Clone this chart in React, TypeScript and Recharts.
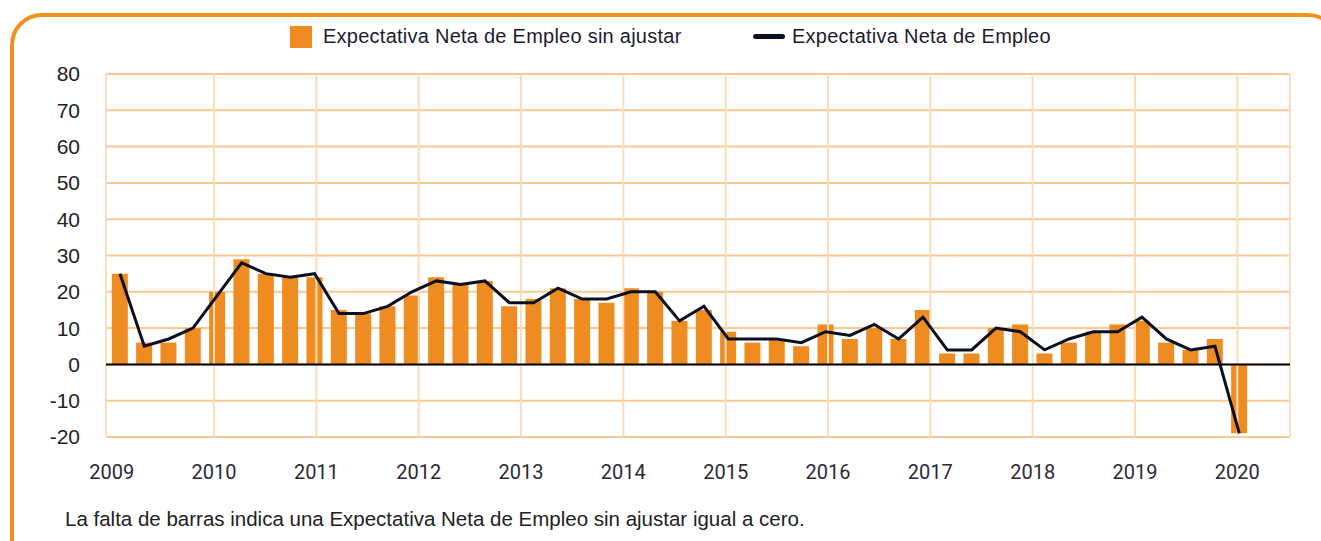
import React from "react";
import {
  ComposedChart,
  Bar,
  Line,
  XAxis,
  YAxis,
  CartesianGrid,
  ReferenceLine,
} from "recharts";

// Year labels shown under the chart
const YEARS = [2009, 2010, 2011, 2012, 2013, 2014, 2015, 2016, 2017, 2018, 2019, 2020];
// Years that carry a vertical gridline
const GRID_YEARS = [2010, 2011, 2012, 2013, 2014, 2015, 2016, 2017, 2018, 2019, 2020];
// Extent of the year scale (plot edges)
const YEAR_MIN = 2008.944;
const YEAR_MAX = 2020.515;

// Quarterly categories
const QUARTERS = YEARS.flatMap((y) => ["T1", "T2", "T3", "T4"].map((q) => `${y} ${q}`));

// Expectativa Neta de Empleo sin ajustar (bars)
const UNADJUSTED = [
  25, 6, 6, 10, 20, 29, 25, 24, 24, 15, 14, 16, 19, 24, 22, 23, 16, 18, 21, 18, 17, 21, 20, 12,
  15, 9, 6, 7, 5, 11, 7, 10, 7, 15, 3, 3, 10, 11, 3, 6, 9, 11, 12, 6, 4, 7, -19, 0,
];
// Expectativa Neta de Empleo (line)
const ADJUSTED: (number | null)[] = [
  25, 5, 7, 10, 19, 28, 25, 24, 25, 14, 14, 16, 20, 23, 22, 23, 17, 17, 21, 18, 18, 20, 20, 12,
  16, 7, 7, 7, 6, 9, 8, 11, 7, 13, 4, 4, 10, 9, 4, 7, 9, 9, 13, 7, 4, 5, -19, null,
];

const Y_TICKS = [-20, -10, 0, 10, 20, 30, 40, 50, 60, 70, 80];

const BAR_LABEL = "Expectativa Neta de Empleo sin ajustar";
const LINE_LABEL = "Expectativa Neta de Empleo";
const FOOTNOTE = "La falta de barras indica una Expectativa Neta de Empleo sin ajustar igual a cero.";

const data = QUARTERS.map((q, i) => ({ q, bar: UNADJUSTED[i], line: ADJUSTED[i] }));

const ORANGE = "#EE8B21";
const FRAME = "#F0901F";
const NAVY = "#0B0F22";
const HGRID = "#F8C994";
const VGRID = "#FBDDB9";

export default function App() {
  return (
    <div
      style={{
        position: "fixed",
        left: 0,
        top: 0,
        width: 1321,
        height: 541,
        overflow: "hidden",
        background: "#fff",
        fontFamily: "'Liberation Sans', Arial, sans-serif",
      }}
    >
      <div
        style={{
          position: "absolute",
          left: 10,
          top: 13,
          width: 1330,
          height: 620,
          border: `4px solid ${FRAME}`,
          borderRadius: 32,
          boxSizing: "border-box",
        }}
      />
      {/* Legend */}
      <div style={{ position: "absolute", left: 290, top: 26, width: 22, height: 22, background: ORANGE }} />
      <div
        style={{
          position: "absolute",
          left: 323,
          top: 26,
          fontSize: 20,
          lineHeight: "20px",
          letterSpacing: 0.25,
          color: "#1c1c2c",
          whiteSpace: "nowrap",
        }}
      >
        {BAR_LABEL}
      </div>
      <div
        style={{ position: "absolute", left: 753, top: 34, width: 32, height: 5, borderRadius: 3, background: NAVY }}
      />
      <div
        style={{
          position: "absolute",
          left: 792,
          top: 26,
          fontSize: 20,
          lineHeight: "20px",
          letterSpacing: 0.25,
          color: "#1c1c2c",
          whiteSpace: "nowrap",
        }}
      >
        {LINE_LABEL}
      </div>

      <div style={{ position: "absolute", left: 0, top: 0 }}>
        <ComposedChart
          width={1321}
          height={541}
          data={data}
          margin={{ top: 74, right: 31, left: 46, bottom: 44 }}
        >
          <CartesianGrid vertical={false} stroke={HGRID} strokeWidth={2} yAxisId="y" />
          <XAxis
            xAxisId="yr"
            dataKey="yr"
            type="number"
            domain={[YEAR_MIN, YEAR_MAX]}
            allowDataOverflow
            ticks={YEARS}
            interval={0}
            height={60}
            axisLine={false}
            tickLine={false}
            tickSize={0}
            tickMargin={28}
            tick={{ fontSize: 20, fill: "#2a2a35", fontFamily: "Roboto, 'Liberation Sans', sans-serif" }}
          />
          <XAxis
            xAxisId="q"
            dataKey="q"
            type="category"
            hide
            height={0}
            padding={{ left: 1.8, right: 14.2 }}
          />
          <YAxis
            yAxisId="y"
            type="number"
            domain={[-20, 80]}
            ticks={Y_TICKS}
            interval={0}
            width={60}
            axisLine={false}
            tickLine={false}
            tickSize={0}
            tickMargin={26}
            tick={{ fontSize: 21, fill: "#222", fontFamily: "'Liberation Sans', Arial, sans-serif" }}
          />
          {GRID_YEARS.map((y) => (
            <ReferenceLine key={y} xAxisId="yr" yAxisId="y" x={y} stroke={VGRID} strokeWidth={2} />
          ))}
          <ReferenceLine xAxisId="yr" yAxisId="y" x={YEAR_MIN} stroke={VGRID} strokeWidth={2} />
          <ReferenceLine xAxisId="yr" yAxisId="y" x={YEAR_MAX} stroke={VGRID} strokeWidth={2} />
          <Bar
            xAxisId="q"
            yAxisId="y"
            dataKey="bar"
            fill={ORANGE}
            barSize={16}
            isAnimationActive={false}
          />
          <ReferenceLine xAxisId="q" yAxisId="y" y={0} stroke="#000" strokeWidth={2} />
          <Line
            xAxisId="q"
            yAxisId="y"
            dataKey="line"
            type="linear"
            stroke={NAVY}
            strokeWidth={3}
            dot={false}
            activeDot={false}
            connectNulls={false}
            isAnimationActive={false}
          />
        </ComposedChart>
      </div>

      <div
        style={{
          position: "absolute",
          left: 65,
          top: 509,
          fontSize: 20.5,
          lineHeight: "20.5px",
          color: "#222",
          whiteSpace: "nowrap",
        }}
      >
        {FOOTNOTE}
      </div>
    </div>
  );
}
